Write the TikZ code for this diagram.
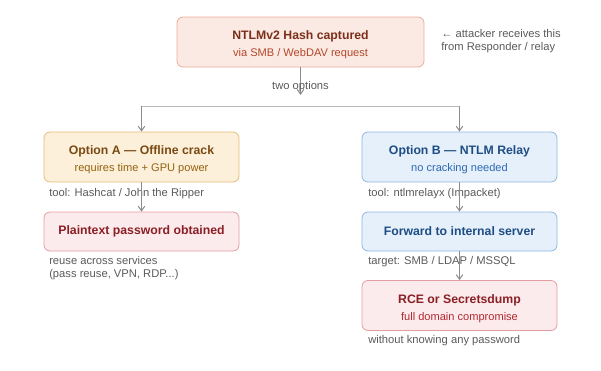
\documentclass[tikz,border=0pt]{standalone}
\usepackage{fontspec}
\setmainfont{Liberation Sans}
\usetikzlibrary{arrows.meta,positioning}

\definecolor{hashfill}{HTML}{FBEAE3}
\definecolor{hashdraw}{HTML}{E9AE9C}
\definecolor{hashtext}{HTML}{7B2F1B}
\definecolor{hashsub}{HTML}{B4472B}
\definecolor{crackfill}{HTML}{FCF0DB}
\definecolor{crackdraw}{HTML}{E4BC7C}
\definecolor{cracktext}{HTML}{7A4A12}
\definecolor{cracksub}{HTML}{94610F}
\definecolor{relayfill}{HTML}{E6F0FB}
\definecolor{relaydraw}{HTML}{8FB6E2}
\definecolor{relaytext}{HTML}{1E4D84}
\definecolor{relaysub}{HTML}{2D69B2}
\definecolor{winfill}{HTML}{FCEBEC}
\definecolor{windraw}{HTML}{E49DA1}
\definecolor{wintext}{HTML}{8A1F25}
\definecolor{winsub}{HTML}{B3282F}
\definecolor{notegray}{HTML}{5A5A5A}
\definecolor{linegray}{HTML}{8C8C8C}

\begin{document}
\begin{tikzpicture}[x=0.75pt,y=-0.75pt,
    box/.style={draw, rounded corners=4.5pt, line width=0.6pt, minimum width=146.25pt, minimum height=37.5pt, align=center, inner sep=0pt,
        font=\fontsize{9.2}{12}\selectfont\bfseries},
    note/.style={anchor=west, align=left, text=notegray, inner sep=0pt, font=\fontsize{8.4}{9.5}\selectfont},
    arr/.style={-{Straight Barb[length=3.5pt,width=5pt]}, draw=linegray, line width=0.75pt},
    bar/.style={draw=linegray!60, line width=0.75pt}
]
\useasboundingbox (0,0) rectangle (601,371);

\node[box, minimum width=185.25pt, fill=hashfill, draw=hashdraw, text=hashtext] (hash) at (300.5,42)
    {\rule{0pt}{11pt}NTLMv2 Hash captured\\[0.5pt]{\mdseries\fontsize{8.3}{10}\selectfont\color{hashsub}via SMB / WebDAV request}};
\node[note] (attnote) at (441,41) {← attacker receives this\\from Responder / relay};

\node[box, fill=crackfill, draw=crackdraw, text=cracktext] (optA) at (141.5,157)
    {\rule{0pt}{11pt}Option A — Offline crack\\[0.5pt]{\mdseries\fontsize{8.3}{10}\selectfont\color{cracksub}requires time + GPU power}};
\node[box, minimum height=29.25pt, fill=winfill, draw=windraw, text=wintext] (plain) at (141.5,231.5)
    {Plaintext password obtained};

\node[box, fill=relayfill, draw=relaydraw, text=relaytext] (optB) at (459.5,157)
    {\rule{0pt}{11pt}Option B — NTLM Relay\\[0.5pt]{\mdseries\fontsize{8.3}{10}\selectfont\color{relaysub}no cracking needed}};
\node[box, minimum height=29.25pt, fill=relayfill, draw=relaydraw, text=relaytext] (fwd) at (459.5,231.5)
    {Forward to internal server};
\node[box, fill=winfill, draw=windraw, text=wintext] (rce) at (459.5,305.5)
    {\rule{0pt}{11pt}RCE or Secretsdump\\[0.5pt]{\mdseries\fontsize{8.3}{10}\selectfont\color{winsub}full domain compromise}};

% notes under the boxes
\node[note] (toolA) at (49,194) {tool: Hashcat / John the Ripper};
\node[note] (reuse) at (49,268) {reuse across services\\(pass reuse, VPN, RDP...)};
\node[note] (toolB) at (368,194) {tool: ntlmrelayx (Impacket)};
\node[note] (target) at (368,262) {target: SMB / LDAP / MSSQL};
\node[note] (nopass) at (368,341) {without knowing any password};

\coordinate (forkTop) at (300.5,95);
\coordinate (barL) at (141.5,106);
\coordinate (barR) at (459.5,106);

\draw[arr] (hash) -- node[pos=0.7, text=notegray, font=\fontsize{8.4}{9.5}\selectfont] {two options} (forkTop);
\draw[bar] (barL) -- (barR);
\draw[arr] (barL) -- (optA);
\draw[arr] (barR) -- (optB);
\draw[arr] (optA) -- (plain);
\draw[arr] (optB) -- (fwd);
\draw[arr] (fwd) -- (rce);
\end{tikzpicture}
\end{document}
